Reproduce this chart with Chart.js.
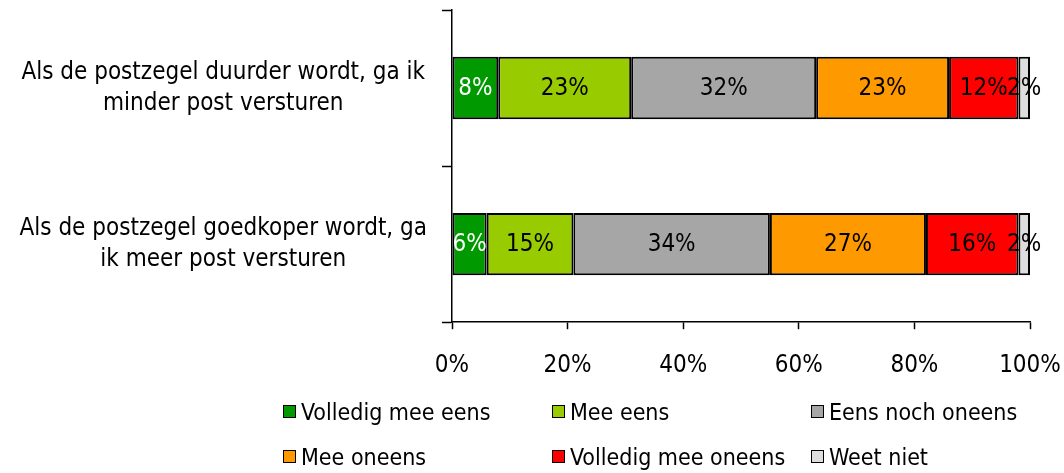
<!DOCTYPE html>
<html>
<head>
<meta charset="utf-8">
<script src="https://cdn.jsdelivr.net/npm/chart.js@4/dist/chart.umd.min.js"></script>
<style>
  body { margin: 0; background: #fff; }
  #wrap { position: relative; width: 1064px; height: 473px; }
  #legend { position: absolute; left: 283px; top: 389px; display: grid;
    grid-template-columns: 269px 259px 250px; grid-auto-rows: 45px;
    font-family: 'DejaVu Sans Condensed', 'Liberation Sans', sans-serif; font-size: 23px; color: #000; }
  #legend div { display: flex; align-items: center; white-space: nowrap; }
  #legend span { display: inline-block; width: 11px; height: 11px; border: 1.5px solid #000; margin-right: 5px; }
</style>
</head>
<body>
<div id="wrap">
  <canvas id="barChart" width="1064" height="473"></canvas>
  <div id="legend"></div>
</div>
<script>
  const FONT = "'DejaVu Sans Condensed', 'Liberation Sans', sans-serif";

  // categories (already split in lines like the original)
  var questions = [
    ['Als de postzegel duurder wordt, ga ik', 'minder post versturen'],
    ['Als de postzegel goedkoper wordt, ga', 'ik meer post versturen']
  ];
  var answers = ['Volledig mee eens', 'Mee eens', 'Eens noch oneens', 'Mee oneens', 'Volledig mee oneens', 'Weet niet'];
  var colors = ['#009900', '#99CC00', '#A6A6A6', '#FF9900', '#FF0000', '#DDDDDD'];
  var labelColors = ['#fff', '#000', '#000', '#000', '#000', '#000'];

  // percentages per answer, [duurder, goedkoper]
  var volledigEens = [8, 6];
  var meeEens = [23, 15];
  var neutraal = [32, 34];
  var meeOneens = [23, 27];
  var volledigOneens = [12, 16];
  var weetNiet = [2, 2];
  var xTicks = [0, 20, 40, 60, 80, 100];

  var series = [volledigEens, meeEens, neutraal, meeOneens, volledigOneens, weetNiet];

  var datasets = series.map(function(vals, i) {
    return {
      label: answers[i],
      data: vals,
      backgroundColor: colors[i],
      borderColor: '#000',
      borderWidth: 2,
      borderSkipped: false,
      barPercentage: 0.4,
      categoryPercentage: 1
    };
  });

  // draws the percentage inside every bar piece
  var valueLabels = {
    id: 'valueLabels',
    afterDatasetsDraw: function(chart) {
      var ctx = chart.ctx;
      ctx.save();
      ctx.font = '24px ' + FONT;
      ctx.textAlign = 'center';
      ctx.textBaseline = 'middle';
      chart.data.datasets.forEach(function(ds, i) {
        var meta = chart.getDatasetMeta(i);
        meta.data.forEach(function(bar, j) {
          var c = bar.getCenterPoint();
          ctx.fillStyle = labelColors[i];
          ctx.fillText(ds.data[j] + '%', c.x, c.y + 1);
        });
      });
      ctx.restore();
    }
  };

  var CHART = document.getElementById('barChart');
  var barChart = new Chart(CHART, {
    type: 'bar',
    data: { labels: questions, datasets: datasets },
    plugins: [valueLabels],
    options: {
      indexAxis: 'y',
      responsive: false,
      animation: false,
      layout: { padding: { left: 0, right: 34, top: 10, bottom: 71 } },
      plugins: { legend: { display: false }, tooltip: { enabled: false } },
      scales: {
        x: {
          stacked: true,
          min: 0,
          max: 100,
          afterBuildTicks: function(scale) {
            scale.ticks = xTicks.map(function(v) { return { value: v }; });
          },
          afterFit: function(scale) { scale.paddingLeft = 0; scale.paddingRight = 0; },
          grid: { drawOnChartArea: false, color: '#000', tickLength: 7, tickWidth: 1.5 },
          border: { color: '#000', width: 1.5 },
          ticks: {
            color: '#000',
            padding: 22,
            font: { family: FONT, size: 24 },
            callback: function(v) { return v + '%'; }
          }
        },
        y: {
          stacked: true,
          afterFit: function(scale) {
            scale.width = 452;
            scale.paddingTop = 0;
            scale.paddingBottom = 0;
          },
          grid: { drawOnChartArea: false, color: '#000', tickLength: 10, tickWidth: 1.5, offset: true },
          border: { color: '#000', width: 1.5 },
          ticks: {
            color: '#000',
            crossAlign: 'center',
            padding: 15,
            font: { family: FONT, size: 24, lineHeight: 1.3 }
          }
        }
      }
    }
  });

  // legend in a 3 column grid like the original
  var legend = document.getElementById('legend');
  answers.forEach(function(name, i) {
    var item = document.createElement('div');
    var box = document.createElement('span');
    box.style.background = colors[i];
    item.appendChild(box);
    item.appendChild(document.createTextNode(name));
    legend.appendChild(item);
  });
</script>
</body>
</html>
